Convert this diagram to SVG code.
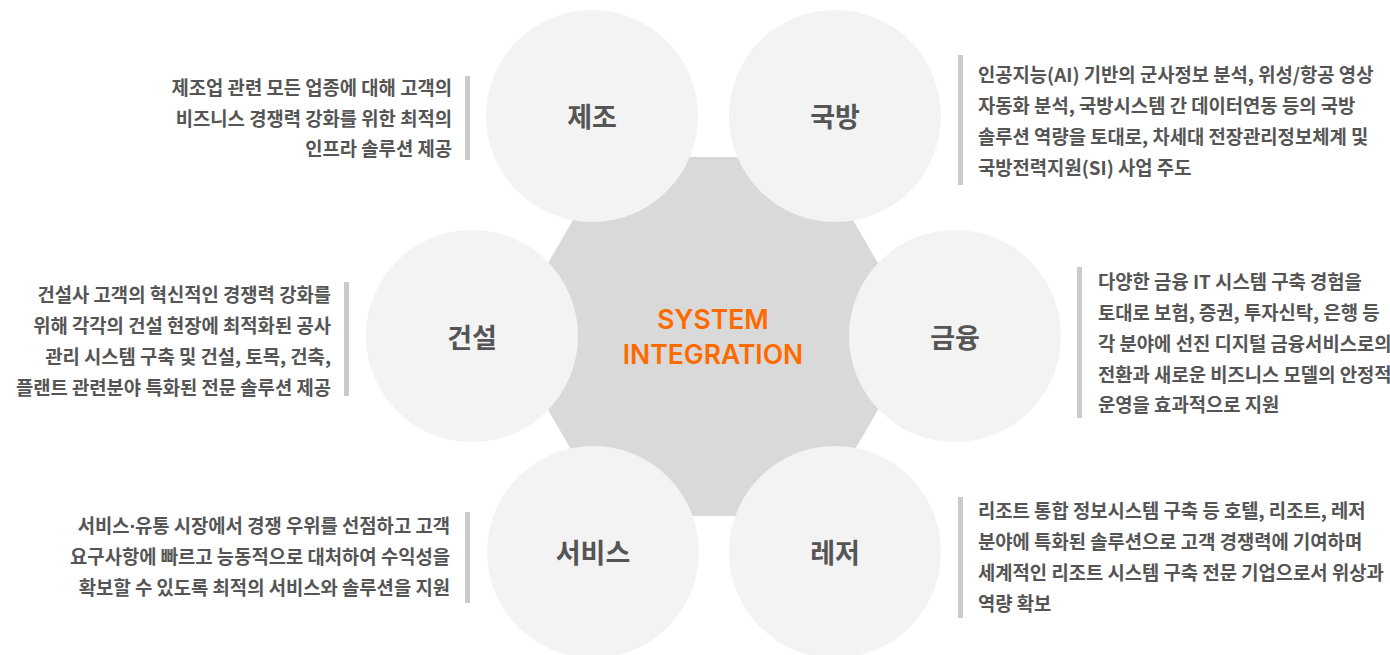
<svg xmlns="http://www.w3.org/2000/svg" width="1390" height="655" viewBox="0 0 1390 655">
<style>
.circ{fill:#f3f3f3}
.lbl{font-family:"Noto Sans CJK KR","Noto Sans",sans-serif;font-size:27px;font-weight:700;fill:#555;text-anchor:middle}
.desc{font-family:"Noto Sans CJK KR","Noto Sans",sans-serif;font-size:18.8px;font-weight:700;fill:#555}
.r{text-anchor:end}
.dot{font-family:"Noto Sans","Liberation Sans",sans-serif}
.bar{fill:#cbcbcb}
.core{font-family:Inter,"Liberation Sans",sans-serif;font-size:26.5px;font-weight:600;fill:#ff6a00;text-anchor:middle}
</style>
<rect width="1390" height="655" fill="#fff"/>
<g id="hub">
<polygon points="920.3,336.5 816.6,516 609.4,516 505.7,336.5 609.4,157 816.6,157" fill="#d9d9d9"/>
<text class="core" x="713" y="329">SYSTEM</text>
<text class="core" x="713" y="364">INTEGRATION</text>
</g>
<g id="connectors"></g>
<g id="node-manufacturing">
<circle class="circ" cx="592" cy="116" r="106"/>
<text class="lbl" x="592" y="126.5">제조</text>
<rect class="bar" x="465" y="76" width="5" height="84"/>
<text class="desc r" x="452" y="95">제조업 관련 모든 업종에 대해 고객의</text>
<text class="desc r" x="452" y="125.5">비즈니스 경쟁력 강화를 위한 최적의</text>
<text class="desc r" x="452" y="156">인프라 솔루션 제공</text>
</g>
<g id="node-defense">
<circle class="circ" cx="835" cy="116" r="106"/>
<text class="lbl" x="835" y="126.5">국방</text>
<rect class="bar" x="958" y="55" width="5" height="130"/>
<text class="desc" x="978" y="82">인공지능(AI) 기반의 군사정보 분석, 위성/항공 영상</text>
<text class="desc" x="978" y="113">자동화 분석, 국방시스템 간 데이터연동 등의 국방</text>
<text class="desc" x="978" y="144">솔루션 역량을 토대로, 차세대 전장관리정보체계 및</text>
<text class="desc" x="978" y="175">국방전력지원(SI) 사업 주도</text>
</g>
<g id="node-construction">
<circle class="circ" cx="472" cy="336" r="106"/>
<text class="lbl" x="472" y="347.5">건설</text>
<rect class="bar" x="344" y="282" width="5" height="114"/>
<text class="desc r" x="331" y="302">건설사 고객의 혁신적인 경쟁력 강화를</text>
<text class="desc r" x="331" y="333">위해 각각의 건설 현장에 최적화된 공사</text>
<text class="desc r" x="331" y="364">관리 시스템 구축 및 건설, 토목, 건축,</text>
<text class="desc r" x="331" y="395">플랜트 관련분야 특화된 전문 솔루션 제공</text>
</g>
<g id="node-finance">
<circle class="circ" cx="955" cy="336" r="106"/>
<text class="lbl" x="955" y="347.5">금융</text>
<rect class="bar" x="1077" y="267" width="5" height="151"/>
<text class="desc" x="1098" y="289">다양한 금융 IT 시스템 구축 경험을</text>
<text class="desc" x="1098" y="320">토대로 보험, 증권, 투자신탁, 은행 등</text>
<text class="desc" x="1098" y="351">각 분야에 선진 디지털 금융서비스로의</text>
<text class="desc" x="1098" y="382">전환과 새로운 비즈니스 모델의 안정적</text>
<text class="desc" x="1098" y="412">운영을 효과적으로 지원</text>
</g>
<g id="node-service">
<circle class="circ" cx="593" cy="552" r="106"/>
<text class="lbl" x="593" y="563">서비스</text>
<rect class="bar" x="465" y="512" width="5" height="91"/>
<text class="desc r" x="450" y="533">서비스<tspan class="dot">·</tspan>유통 시장에서 경쟁 우위를 선점하고 고객</text>
<text class="desc r" x="450" y="564">요구사항에 빠르고 능동적으로 대처하여 수익성을</text>
<text class="desc r" x="450" y="595">확보할 수 있도록 최적의 서비스와 솔루션을 지원</text>
</g>
<g id="node-leisure">
<circle class="circ" cx="835" cy="552" r="106"/>
<text class="lbl" x="835" y="563">레저</text>
<rect class="bar" x="958" y="497" width="5" height="121"/>
<text class="desc" x="978" y="518">리조트 통합 정보시스템 구축 등 호텔, 리조트, 레저</text>
<text class="desc" x="978" y="549">분야에 특화된 솔루션으로 고객 경쟁력에 기여하며</text>
<text class="desc" x="978" y="580">세계적인 리조트 시스템 구축 전문 기업으로서 위상과</text>
<text class="desc" x="978" y="611">역량 확보</text>
</g>
</svg>
